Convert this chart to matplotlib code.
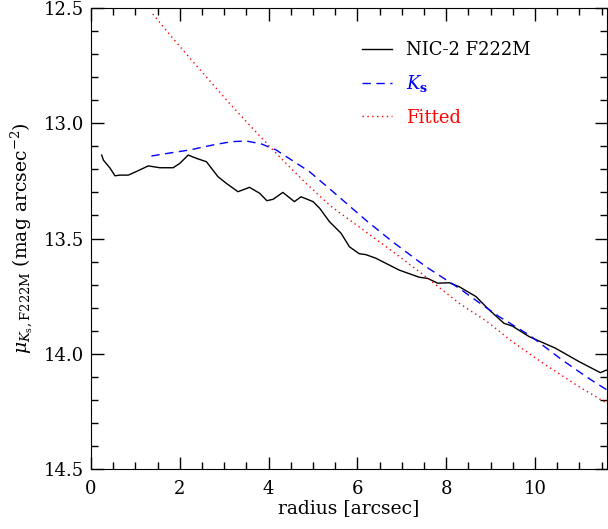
import numpy as np
import matplotlib
matplotlib.use('Agg')
import matplotlib.pyplot as plt
from matplotlib.ticker import MultipleLocator

plt.rcParams['font.family'] = ['DejaVu Serif']
plt.rcParams['mathtext.fontset'] = 'dejavuserif'

# NIC-2 F222M profile
r_nic = [0.24, 0.28, 0.43, 0.54, 0.65, 0.84, 1.06, 1.29, 1.55, 1.85, 2.00, 2.19, 2.37,
         2.60, 2.86, 3.05, 3.31, 3.57, 3.80, 3.96, 4.10, 4.32, 4.58, 4.73, 5.00, 5.15,
         5.37, 5.63, 5.82, 6.04, 6.19, 6.42, 6.49, 6.94, 7.39, 7.58, 7.81, 8.07, 8.29,
         8.67, 8.93, 9.30, 9.49, 9.87, 10.46, 10.99, 11.47, 11.62]
mu_nic = [13.138, 13.160, 13.195, 13.228, 13.225, 13.225, 13.206, 13.185, 13.193, 13.193,
          13.174, 13.138, 13.152, 13.167, 13.232, 13.261, 13.297, 13.278, 13.304, 13.336,
          13.330, 13.300, 13.340, 13.319, 13.340, 13.369, 13.427, 13.477, 13.536, 13.566,
          13.570, 13.586, 13.593, 13.637, 13.668, 13.673, 13.694, 13.692, 13.709, 13.752,
          13.803, 13.868, 13.880, 13.926, 13.976, 14.034, 14.082, 14.070]

# Ks profile
r_ks = [1.36, 1.81, 2.22, 2.75, 3.16, 3.50, 3.84, 4.17, 4.40, 4.92, 5.45, 5.97, 6.23,
        6.79, 7.54, 8.29, 8.74, 9.19, 9.87, 10.61, 11.21, 11.62]
mu_ks = [13.142, 13.128, 13.116, 13.094, 13.080, 13.077, 13.090, 13.116, 13.145, 13.210,
         13.297, 13.384, 13.427, 13.514, 13.622, 13.716, 13.778, 13.839, 13.919, 14.027,
         14.107, 14.157]

# fitted profile
r_fit = [1.39, 1.78, 2.22, 2.67, 3.12, 3.57, 4.02, 4.32, 4.85, 5.40, 6.04, 6.79, 7.54,
         8.29, 8.93, 9.49, 10.24, 10.99, 11.62]
mu_fit = [12.526, 12.617, 12.716, 12.815, 12.914, 13.008, 13.100, 13.160, 13.262, 13.360,
          13.450, 13.556, 13.666, 13.781, 13.862, 13.948, 14.049, 14.143, 14.215]

fig = plt.figure(figsize=(6.08, 5.29), dpi=100)
ax = fig.add_axes([91/608., 1 - 469/529., (607 - 91)/608., (469 - 8)/529.])

ax.plot(r_nic, mu_nic, color='black', lw=1.0, label='NIC-2 F222M')
ax.plot(r_ks, mu_ks, color='blue', lw=1.0, ls=(0, (6, 4)), label=r'$\mathit{K}_\mathbf{s}$')
ax.plot(r_fit, mu_fit, color='red', lw=1.0, ls=(0, (1, 2.5)), label='Fitted')

ax.set_xlim(0, 11.62)
ax.set_ylim(14.5, 12.5)

ax.xaxis.set_major_locator(MultipleLocator(2))
ax.xaxis.set_minor_locator(MultipleLocator(0.5))
ax.yaxis.set_major_locator(MultipleLocator(0.5))
ax.yaxis.set_minor_locator(MultipleLocator(0.1))
ax.yaxis.set_major_formatter(matplotlib.ticker.FormatStrFormatter('%.1f'))

ax.tick_params(which='both', direction='in', top=True, right=True, labelsize=13, width=1.0)
ax.tick_params(which='major', length=9)
ax.tick_params(which='minor', length=5)
ax.tick_params(axis='x', which='major', pad=8)
ax.tick_params(axis='y', which='major', pad=5)

ax.set_xlabel('radius [arcsec]', fontsize=13.5, labelpad=1)
ax.set_ylabel(r'$\mu_{K_{\rm s}{\rm ,F222M}}$ (mag arcsec$^{-2}$)', fontsize=13.5, labelpad=6)

leg = ax.legend(loc='upper right', bbox_to_anchor=(0.883, 0.964), frameon=False, fontsize=13,
                handlelength=1.7, handletextpad=0.75, labelspacing=0.8, labelcolor='linecolor')

fig.savefig('out.png', dpi=100)
